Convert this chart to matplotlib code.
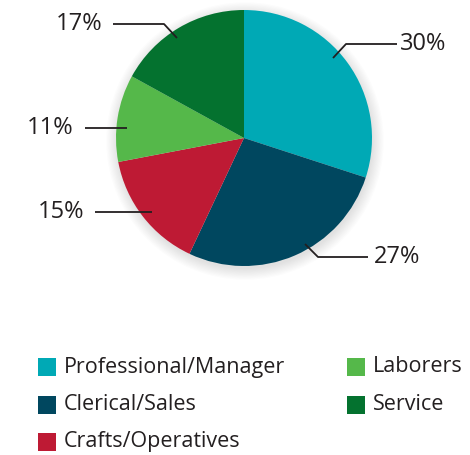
import numpy as np
import matplotlib.pyplot as plt
from matplotlib.patches import Circle, Rectangle

# dados
categories = ['Professional/Manager', 'Clerical/Sales', 'Crafts/Operatives', 'Laborers', 'Service']
shares = [30, 27, 15, 11, 17]
labels = ['30%', '27%', '15%', '11%', '17%']
colors = ['#00A9B5', '#00475F', '#BE1A34', '#55B84A', '#04722F']

plt.rcParams['font.family'] = ['Open Sans', 'DejaVu Sans']
W, H = 470, 455
fig = plt.figure(figsize=(4.7, 4.55), dpi=100)
ax = fig.add_axes([0, 0, 1, 1])

cx, cy, r = 244, H - 138, 128

# sombra suave
for i in range(10):
    ax.add_patch(Circle((cx + 1, cy - 3), r + i * 1.2, color='black', alpha=0.012, lw=0, zorder=0))

wedges, _ = ax.pie(shares, colors=colors, startangle=90, counterclock=False,
                   center=(cx, cy), radius=r, frame=True,
                   wedgeprops=dict(linewidth=0))
ax.set_xlim(0, W)
ax.set_ylim(0, H)
ax.set_aspect('equal')
ax.axis('off')

# linhas das etiquetas (inicio, cotovelo, fim, texto) em pixels a partir do topo
label_layout = [
    ((333, 58), (346, 44), (397, 44), (400, 44), 'left'),
    ((305, 244), (318, 257), (368, 257), (374, 257), 'left'),
    ((152, 212), (152, 212), (95, 212), (84, 212), 'right'),
    ((127, 128), (127, 128), (85, 128), (73, 128), 'right'),
    ((177, 38), (164, 24), (113, 24), (102, 24), 'right'),
]

for lab, (start, elbow, end, txt, ha) in zip(labels, label_layout):
    xs = [start[0], elbow[0], end[0]]
    ys = [H - start[1], H - elbow[1], H - end[1]]
    ax.plot(xs, ys, color='#231F20', lw=1.3, solid_capstyle='butt', zorder=5)
    ax.text(txt[0], H - txt[1], lab, ha=ha, va='center', fontsize=17, color='#231F20')

# legenda
leg_pos = [(38, 367), (38, 405), (38, 442), (347, 367), (347, 405)]
for cat, col, (lx, ly) in zip(categories, colors, leg_pos):
    ax.add_patch(Rectangle((lx, H - ly - 9), 18, 18, color=col, lw=0))
    ax.text(lx + 26, H - ly, cat, ha='left', va='center', fontsize=15.5, color='#231F20')

plt.savefig('out.png', dpi=100)
